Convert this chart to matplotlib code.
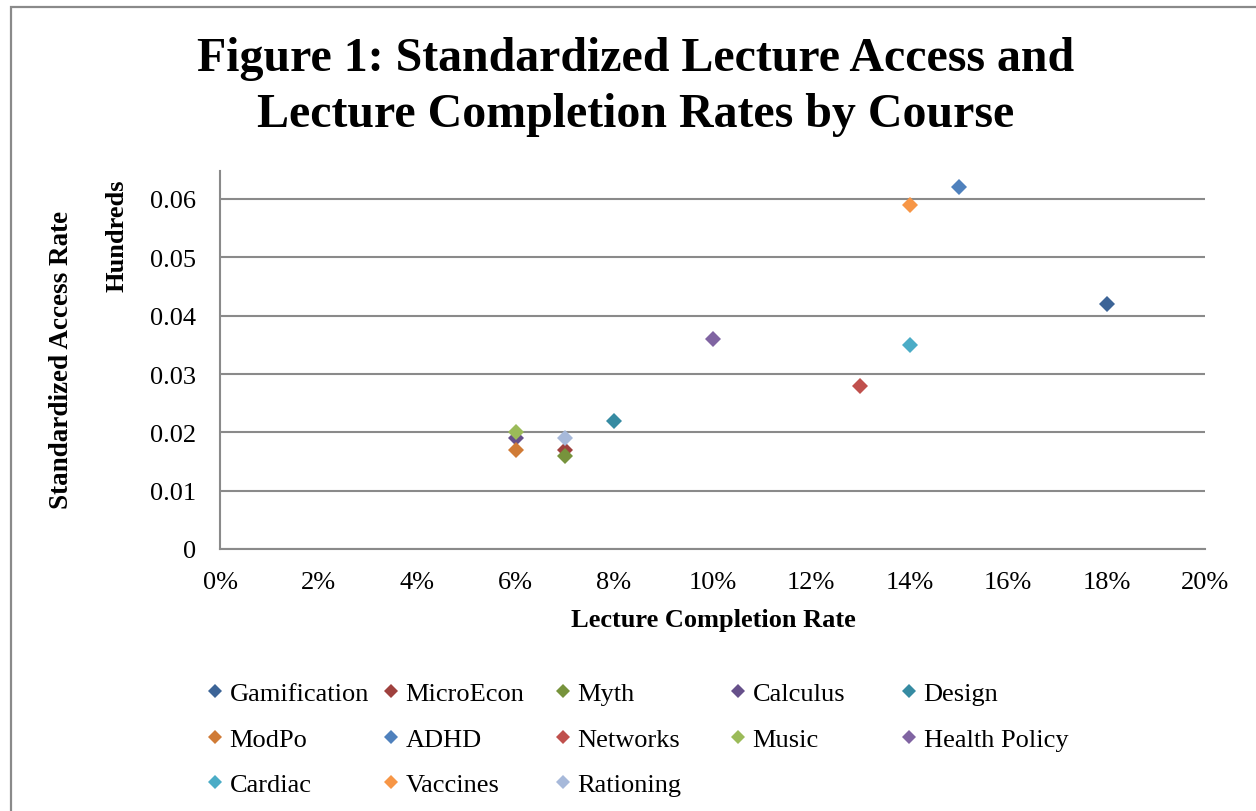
import matplotlib
matplotlib.use('Agg')
import matplotlib.pyplot as plt
from matplotlib.lines import Line2D
from matplotlib.patches import Rectangle
from matplotlib.ticker import FuncFormatter, MultipleLocator

plt.rcParams['font.family'] = ['Liberation Serif', 'DejaVu Serif']

courses = ['Gamification', 'MicroEcon', 'Myth', 'Calculus', 'Design',
           'ModPo', 'ADHD', 'Networks', 'Music', 'Health Policy',
           'Cardiac', 'Vaccines', 'Rationing']
completion = [0.18, 0.07, 0.07, 0.06, 0.08,
              0.06, 0.15, 0.13, 0.06, 0.10,
              0.14, 0.14, 0.07]
access = [0.042, 0.017, 0.016, 0.019, 0.022,
          0.017, 0.062, 0.028, 0.020, 0.036,
          0.035, 0.059, 0.019]
colors = ['#3C6497', '#9F413E', '#77933C', '#66508A', '#368BA2',
          '#D07B36', '#4F81BD', '#C0504D', '#9BBB59', '#8064A2',
          '#4BACC6', '#F79646', '#A7B9DA']

grid_gray = '#8A8A8A'

fig = plt.figure(figsize=(12.56, 8.12), dpi=100)
ax = fig.add_axes([220 / 1256, 1 - 550 / 812, 985 / 1256, 378 / 812])

for name, x, y, c in zip(courses, completion, access, colors):
    ax.plot(x, y, linestyle='none', marker='D', markersize=8.6,
            color=c, markeredgewidth=0, label=name)

ax.set_xlim(0, 0.20)
ax.set_ylim(0, 0.0648)
ax.xaxis.set_major_locator(MultipleLocator(0.02))
ax.yaxis.set_major_locator(MultipleLocator(0.01))
ax.xaxis.set_major_formatter(FuncFormatter(lambda v, p: f'{v * 100:.0f}%'))
ax.yaxis.set_major_formatter(FuncFormatter(lambda v, p: '0' if abs(v) < 1e-9 else f'{v:.2f}'))
ax.tick_params(axis='both', length=0, labelsize=19)
ax.tick_params(axis='x', pad=16)
ax.tick_params(axis='y', pad=17)
ax.grid(axis='y', color=grid_gray, linewidth=1.5)
ax.set_axisbelow(True)
for side in ['top', 'right']:
    ax.spines[side].set_visible(False)
for side in ['left', 'bottom']:
    ax.spines[side].set_color(grid_gray)
    ax.spines[side].set_linewidth(1.5)

fig.text(713 / 1256, 1 - 621 / 812, 'Lecture Completion Rate', ha='center', va='center',
         fontsize=19, weight='bold')
fig.text(62 / 1256, 1 - 360 / 812, 'Standardized Access Rate', ha='center', va='center',
         rotation=90, fontsize=19.5, weight='bold')
fig.text(117 / 1256, 1 - 236 / 812, 'Hundreds', ha='center', va='center',
         rotation=90, fontsize=19, weight='bold')

fig.text(636 / 1256, 1 - 87 / 812,
         'Figure 1: Standardized Lecture Access and\nLecture Completion Rates by Course',
         ha='center', va='center', fontsize=34.5, weight='bold', linespacing=1.36)

# legend: 5 columns laid out at fixed spacing like Excel
handles, labels = ax.get_legend_handles_labels()
col_x = [204, 380, 552, 727, 898]
for c in range(5):
    idx = list(range(c, len(handles), 5))
    fig.legend([Line2D([], [], linestyle='none', marker='D', markersize=7,
                       color=colors[i], markeredgewidth=0) for i in idx],
               [labels[i] for i in idx],
               loc='upper left', bbox_to_anchor=(col_x[c] / 1256, 1 - 683 / 812),
               frameon=False, fontsize=19, borderpad=0, borderaxespad=0,
               handlelength=0.85, handletextpad=0.12, labelspacing=0.83)

# outer chart border
fig.add_artist(Rectangle((11 / 1256, -0.1), 1.2, 1.1 - 8 / 812, transform=fig.transFigure,
                         fill=False, edgecolor=grid_gray, linewidth=1.6))

fig.savefig('out.png', dpi=100)
